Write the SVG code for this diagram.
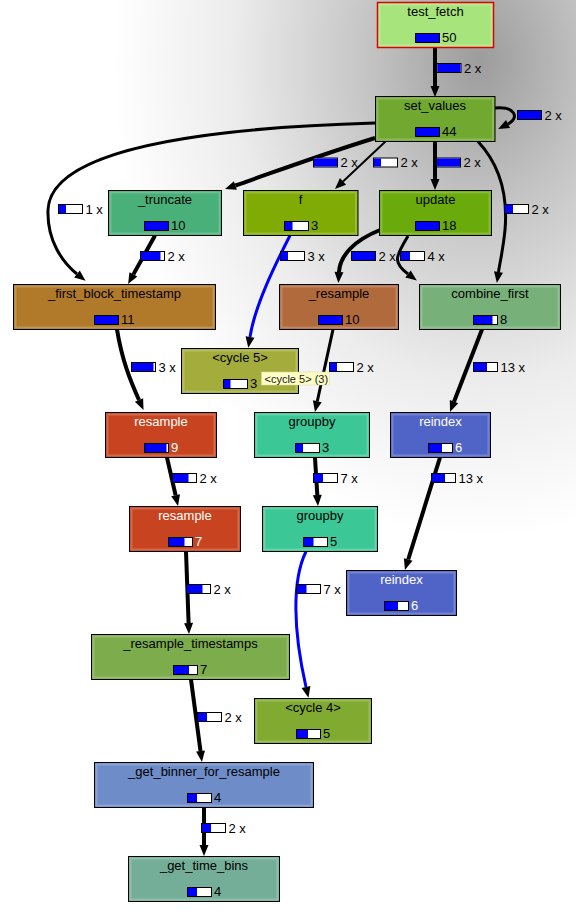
<svg xmlns="http://www.w3.org/2000/svg" width="576" height="915" viewBox="0 0 576 915">
<defs>
<radialGradient id="bg" gradientUnits="userSpaceOnUse" cx="480" cy="60" r="450" gradientTransform="translate(480 60) scale(1 1.3) translate(-480 -60)">
<stop offset="0" stop-color="#9c9c9c"/>
<stop offset="0.25" stop-color="#c4c4c4"/>
<stop offset="0.55" stop-color="#ececec"/>
<stop offset="0.82" stop-color="#ffffff"/>
</radialGradient>
<marker id="ah" markerUnits="userSpaceOnUse" viewBox="0 -5 12 10" refX="0" refY="0" markerWidth="12" markerHeight="10" orient="auto" overflow="visible">
<path d="M0,-4.5 L11,0 L0,4.5 z" fill="#000"/>
</marker>
<style>
.b{stroke:#000;stroke-width:1}
.hi{fill:none;stroke:#fff;stroke-opacity:0.2;stroke-width:2}
.lbl{font-family:"Liberation Sans",Arial,sans-serif;font-size:13px;text-anchor:middle;fill:#000}
.num{font-family:"Liberation Sans",Arial,sans-serif;font-size:13px;fill:#000}
.w{fill:#fff}
.bb{fill:#fff;stroke:#000;stroke-width:1}
.bf{fill:#0000ff}
.e{fill:none;stroke:#000;marker-end:url(#ah)}
.blue{stroke:#0000ff}
.el{font-family:"Liberation Sans",Arial,sans-serif;font-size:13px;fill:#000}
.tip{font-family:"Liberation Sans",Arial,sans-serif;font-size:11px;fill:#222}
</style>
</defs>
<rect x="0" y="0" width="576" height="915" fill="url(#bg)"/>

<g id="edges">
<path class="e" stroke-width="4" d="M435,47.5 L435,86"/>
<path class="e" stroke-width="3" d="M495,108 C515,106 520,118 508,124"/>
<path class="e" stroke-width="4" d="M375,138 C320,155 280,170 235.4,185.5"/>
<path class="e" stroke-width="3" d="M375,123 C200,128 50,150 48,210 C47,240 62,262 77,274"/>
<path class="e" stroke-width="2" d="M386,141 L343,181.4"/>
<path class="e" stroke-width="4" d="M435,141.5 L435,179"/>
<path class="e" stroke-width="3" d="M478,141.5 C500,165 508,195 505,230 C503,250 500,262 498.5,272"/>
<path class="e" stroke-width="4" d="M155,235.5 L133.4,274.4"/>
<path class="e blue" stroke-width="3" d="M290,235.5 C275,265 255,305 250,337"/>
<path class="e" stroke-width="4" d="M380,230 C355,240 340,255 339,272"/>
<path class="e" stroke-width="3" d="M408,236 C396,256 392,262 408,274"/>
<path class="e" stroke-width="4" d="M117,329.5 C122,360 130,380 139,400"/>
<path class="e" stroke-width="3" d="M333,329.5 L317.3,401.3"/>
<path class="e" stroke-width="4" d="M482,329.5 L454,401.7"/>
<path class="e" stroke-width="4" d="M167,457.5 L175.6,495.3"/>
<path class="e" stroke-width="4" d="M315,457.5 L317.3,495"/>
<path class="e" stroke-width="4" d="M440,457.5 L408.2,559.5"/>
<path class="e" stroke-width="4" d="M186,551.5 L188.6,623"/>
<path class="e blue" stroke-width="3" d="M306,551.5 C292,580 293,630 306,687"/>
<path class="e" stroke-width="4" d="M191,679.5 L200.5,751"/>
<path class="e" stroke-width="4" d="M204,807.5 L204,845"/>

<g id="edge-labels">
<rect class="bb" x="437" y="63.5" width="24" height="9"/><rect class="bf" x="437.5" y="64" width="23" height="8"/><text class="el" x="464" y="72.5">2 x</text>
<rect class="bb" x="517.5" y="110.5" width="24" height="9"/><rect class="bf" x="518" y="111" width="23" height="8"/><text class="el" x="544.5" y="119.5">2 x</text>
<rect class="bb" x="313.5" y="158" width="24" height="9"/><rect class="bf" x="314" y="158.5" width="23" height="8"/><text class="el" x="340.5" y="167">2 x</text>
<rect class="bb" x="373.5" y="158" width="24" height="9"/><rect class="bf" x="374" y="158.5" width="7" height="8"/><text class="el" x="400.5" y="167">2 x</text>
<rect class="bb" x="436.5" y="158" width="24" height="9"/><rect class="bf" x="437" y="158.5" width="23" height="8"/><text class="el" x="463.5" y="167">2 x</text>
<rect class="bb" x="58.5" y="204.5" width="24" height="9"/><rect class="bf" x="59" y="205" width="7" height="8"/><text class="el" x="85.5" y="213.5">1 x</text>
<rect class="bb" x="504.5" y="204.5" width="24" height="9"/><rect class="bf" x="505" y="205" width="8" height="8"/><text class="el" x="531.5" y="213.5">2 x</text>
<rect class="bb" x="140.5" y="251.5" width="24" height="9"/><rect class="bf" x="141" y="252" width="19.5" height="8"/><text class="el" x="167.5" y="260.5">2 x</text>
<rect class="bb" x="280.5" y="251.5" width="24" height="9"/><rect class="bf" x="281" y="252" width="7" height="8"/><text class="el" x="307.5" y="260.5">3 x</text>
<rect class="bb" x="351.5" y="251.5" width="24" height="9"/><rect class="bf" x="352" y="252" width="23" height="8"/><text class="el" x="378.5" y="260.5">2 x</text>
<rect class="bb" x="400.5" y="251.5" width="24" height="9"/><rect class="bf" x="401" y="252" width="9" height="8"/><text class="el" x="427.5" y="260.5">4 x</text>
<rect class="bb" x="131.5" y="362.5" width="24" height="9"/><rect class="bf" x="132" y="363" width="21.5" height="8"/><text class="el" x="158.5" y="371.5">3 x</text>
<rect class="bb" x="329.5" y="362.5" width="24" height="9"/><rect class="bf" x="330" y="363" width="7" height="8"/><text class="el" x="356.5" y="371.5">2 x</text>
<rect class="bb" x="473.5" y="362.5" width="24" height="9"/><rect class="bf" x="474" y="363" width="13" height="8"/><text class="el" x="500.5" y="371.5">13 x</text>
<rect class="bb" x="172.5" y="473.5" width="24" height="9"/><rect class="bf" x="173" y="474" width="15.5" height="8"/><text class="el" x="199.5" y="482.5">2 x</text>
<rect class="bb" x="313.5" y="473.5" width="24" height="9"/><rect class="bf" x="314" y="474" width="9" height="8"/><text class="el" x="340.5" y="482.5">7 x</text>
<rect class="bb" x="431.5" y="473.5" width="24" height="9"/><rect class="bf" x="432" y="474" width="13" height="8"/><text class="el" x="458.5" y="482.5">13 x</text>
<rect class="bb" x="186.5" y="584.5" width="24" height="9"/><rect class="bf" x="187" y="585" width="15.5" height="8"/><text class="el" x="213.5" y="593.5">2 x</text>
<rect class="bb" x="296.5" y="584.5" width="24" height="9"/><rect class="bf" x="297" y="585" width="9.5" height="8"/><text class="el" x="323.5" y="593.5">7 x</text>
<rect class="bb" x="197.5" y="712.5" width="24" height="9"/><rect class="bf" x="198" y="713" width="9" height="8"/><text class="el" x="224.5" y="721.5">2 x</text>
<rect class="bb" x="201.5" y="823.5" width="24" height="9"/><rect class="bf" x="202" y="824" width="9" height="8"/><text class="el" x="228.5" y="832.5">2 x</text>
</g>
</g>

<g id="n_test_fetch">
<rect x="377.5" y="2.5" width="116" height="45" fill="#a8e47c" stroke="#e00000" stroke-width="1.5"/>
<rect class="hi" x="379.5" y="4.5" width="112" height="41"/>
<text class="lbl" x="435.5" y="15.5">test_fetch</text>
<rect class="bb" x="415.5" y="33.5" width="24" height="9"/><rect class="bf" x="416" y="34" width="23" height="8"/>
<text class="num" x="442" y="42">50</text>
</g>
<g id="n_set_values">
<rect class="b" x="375.5" y="96.5" width="119.5" height="45" fill="#70a830"/>
<rect class="hi" x="377.5" y="98.5" width="115.5" height="41"/>
<text class="lbl" x="435" y="109.5">set_values</text>
<rect class="bb" x="415.5" y="127.5" width="24" height="9"/><rect class="bf" x="416" y="128" width="23" height="8"/>
<text class="num" x="442" y="136">44</text>
</g>
<g id="n_truncate">
<rect class="b" x="108.5" y="190.5" width="113" height="45" fill="#48b078"/>
<rect class="hi" x="110.5" y="192.5" width="109" height="41"/>
<text class="lbl" x="165" y="203.5">_truncate</text>
<rect class="bb" x="144.5" y="221.5" width="24" height="9"/><rect class="bf" x="145" y="222" width="23" height="8"/>
<text class="num" x="171" y="230">10</text>
</g>
<g id="n_f">
<rect class="b" x="243.5" y="190.5" width="114.5" height="45" fill="#80ab05"/>
<rect class="hi" x="245.5" y="192.5" width="110.5" height="41"/>
<text class="lbl" x="300.5" y="203.5">f</text>
<rect class="bb" x="284.5" y="221.5" width="24" height="9"/><rect class="bf" x="285" y="222" width="7.5" height="8"/>
<text class="num" x="311" y="230">3</text>
</g>
<g id="n_update">
<rect class="b" x="379.5" y="190.5" width="112" height="45" fill="#6aaa0a"/>
<rect class="hi" x="381.5" y="192.5" width="108" height="41"/>
<text class="lbl" x="435.5" y="203.5">update</text>
<rect class="bb" x="415.5" y="221.5" width="24" height="9"/><rect class="bf" x="416" y="222" width="23" height="8"/>
<text class="num" x="442" y="230">18</text>
</g>
<g id="n_first_block_timestamp">
<rect class="b" x="13.5" y="284.5" width="202" height="45" fill="#b07a2a"/>
<rect class="hi" x="15.5" y="286.5" width="198" height="41"/>
<text class="lbl" x="114.5" y="297.5">_first_block_timestamp</text>
<rect class="bb" x="94.5" y="315.5" width="24" height="9"/><rect class="bf" x="95" y="316" width="23" height="8"/>
<text class="num" x="121" y="324">11</text>
</g>
<g id="n_resample_priv">
<rect class="b" x="279.5" y="284.5" width="119" height="45" fill="#b06a3c"/>
<rect class="hi" x="281.5" y="286.5" width="115" height="41"/>
<text class="lbl" x="339" y="297.5">_resample</text>
<rect class="bb" x="318.5" y="315.5" width="24" height="9"/><rect class="bf" x="319" y="316" width="23" height="8"/>
<text class="num" x="345" y="324">10</text>
</g>
<g id="n_combine_first">
<rect class="b" x="419.5" y="284.5" width="141" height="45" fill="#78b07a"/>
<rect class="hi" x="421.5" y="286.5" width="137" height="41"/>
<text class="lbl" x="490" y="297.5">combine_first</text>
<rect class="bb" x="473.5" y="315.5" width="24" height="9"/><rect class="bf" x="474" y="316" width="18.5" height="8"/>
<text class="num" x="500" y="324">8</text>
</g>
<g id="n_cycle5">
<rect class="b" x="181.5" y="348.5" width="117" height="45" fill="#a4ac3c"/>
<rect class="hi" x="183.5" y="350.5" width="113" height="41"/>
<text class="lbl" x="240" y="361.5">&lt;cycle 5&gt;</text>
<rect class="bb" x="223.5" y="379.5" width="24" height="9"/><rect class="bf" x="224" y="380" width="6.5" height="8"/>
<text class="num" x="250" y="388">3</text>
</g>
<g id="n_resample_9">
<rect class="b" x="105.5" y="412.5" width="111" height="45" fill="#c84420"/>
<rect class="hi" x="107.5" y="414.5" width="107" height="41"/>
<text class="lbl w" x="161" y="425.5">resample</text>
<rect class="bb" x="144.5" y="443.5" width="24" height="9"/><rect class="bf" x="145" y="444" width="21.5" height="8"/>
<text class="num w" x="171" y="452">9</text>
</g>
<g id="n_groupby_3">
<rect class="b" x="254.5" y="412.5" width="115" height="45" fill="#3cc896"/>
<rect class="hi" x="256.5" y="414.5" width="111" height="41"/>
<text class="lbl" x="312" y="425.5">groupby</text>
<rect class="bb" x="295.5" y="443.5" width="24" height="9"/><rect class="bf" x="296" y="444" width="7" height="8"/>
<text class="num" x="322" y="452">3</text>
</g>
<g id="n_reindex_1">
<rect class="b" x="390.5" y="412.5" width="100" height="45" fill="#5064c8"/>
<rect class="hi" x="392.5" y="414.5" width="96" height="41"/>
<text class="lbl w" x="440.5" y="425.5">reindex</text>
<rect class="bb" x="428.5" y="443.5" width="24" height="9"/><rect class="bf" x="429" y="444" width="13" height="8"/>
<text class="num w" x="455" y="452">6</text>
</g>
<g id="n_resample_7">
<rect class="b" x="129.5" y="506.5" width="111" height="45" fill="#c84420"/>
<rect class="hi" x="131.5" y="508.5" width="107" height="41"/>
<text class="lbl w" x="185" y="519.5">resample</text>
<rect class="bb" x="168.5" y="537.5" width="24" height="9"/><rect class="bf" x="169" y="538" width="15.5" height="8"/>
<text class="num w" x="195" y="546">7</text>
</g>
<g id="n_groupby_5">
<rect class="b" x="262.5" y="506.5" width="115" height="45" fill="#3cc896"/>
<rect class="hi" x="264.5" y="508.5" width="111" height="41"/>
<text class="lbl" x="320" y="519.5">groupby</text>
<rect class="bb" x="303.5" y="537.5" width="24" height="9"/><rect class="bf" x="304" y="538" width="9.5" height="8"/>
<text class="num" x="330" y="546">5</text>
</g>
<g id="n_reindex_2">
<rect class="b" x="346.5" y="570.5" width="110" height="45" fill="#5064c8"/>
<rect class="hi" x="348.5" y="572.5" width="106" height="41"/>
<text class="lbl w" x="401.5" y="583.5">reindex</text>
<rect class="bb" x="384.5" y="601.5" width="24" height="9"/><rect class="bf" x="385" y="602" width="13" height="8"/>
<text class="num w" x="411" y="610">6</text>
</g>
<g id="n_resample_timestamps">
<rect class="b" x="91.5" y="634.5" width="198" height="45" fill="#7cac4c"/>
<rect class="hi" x="93.5" y="636.5" width="194" height="41"/>
<text class="lbl" x="190.5" y="647.5">_resample_timestamps</text>
<rect class="bb" x="173.5" y="665.5" width="24" height="9"/><rect class="bf" x="174" y="666" width="15" height="8"/>
<text class="num" x="200" y="674">7</text>
</g>
<g id="n_cycle4">
<rect class="b" x="254.5" y="698.5" width="117" height="45" fill="#80aa30"/>
<rect class="hi" x="256.5" y="700.5" width="113" height="41"/>
<text class="lbl" x="313" y="711.5">&lt;cycle 4&gt;</text>
<rect class="bb" x="296.5" y="729.5" width="24" height="9"/><rect class="bf" x="297" y="730" width="11" height="8"/>
<text class="num" x="323" y="738">5</text>
</g>
<g id="n_get_binner_for_resample">
<rect class="b" x="94.5" y="762.5" width="219" height="45" fill="#6e8cc8"/>
<rect class="hi" x="96.5" y="764.5" width="215" height="41"/>
<text class="lbl" x="204" y="775.5">_get_binner_for_resample</text>
<rect class="bb" x="187.5" y="793.5" width="24" height="9"/><rect class="bf" x="188" y="794" width="9" height="8"/>
<text class="num" x="214" y="802">4</text>
</g>
<g id="n_get_time_bins">
<rect class="b" x="128.5" y="856.5" width="151" height="45" fill="#74ae98"/>
<rect class="hi" x="130.5" y="858.5" width="147" height="41"/>
<text class="lbl" x="204" y="869.5">_get_time_bins</text>
<rect class="bb" x="187.5" y="887.5" width="24" height="9"/><rect class="bf" x="188" y="888" width="9" height="8"/>
<text class="num" x="214" y="896">4</text>
</g>

<g id="tooltip">
<rect x="261.5" y="372" width="68" height="13" fill="#fdfdc4" stroke="#d8d8b0" stroke-width="0.5"/>
<text class="tip" x="264.5" y="382.5">&lt;cycle 5&gt; (3)</text>
</g>
</svg>
